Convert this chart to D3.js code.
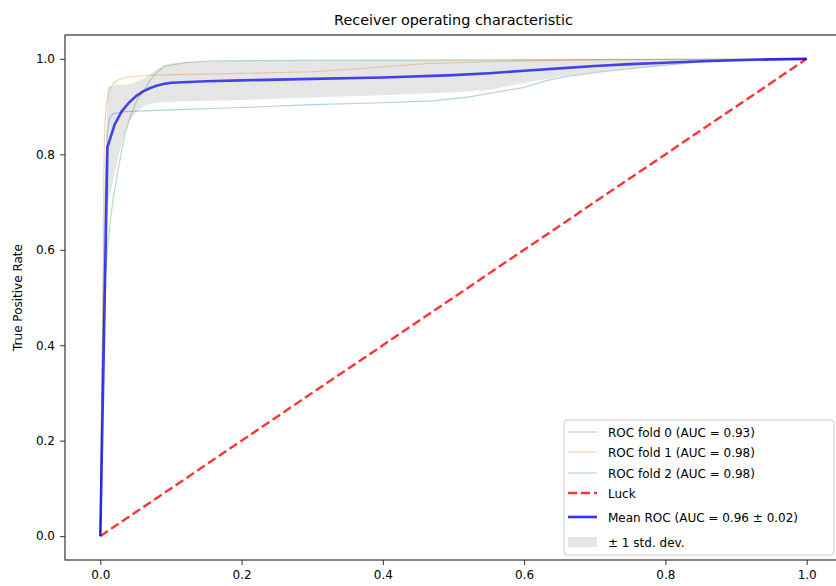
<!DOCTYPE html>
<html>
<head>
<meta charset="utf-8">
<script src="https://cdnjs.cloudflare.com/ajax/libs/d3/7.8.5/d3.min.js"></script>
<style>
  body { margin: 0; background: #fff; }
  text { font-family: "DejaVu Sans", sans-serif; fill: #000; }
</style>
</head>
<body>
<div id="chart"></div>
<script>
// ROC fold curves
var fold0Fpr = [0, 0.002, 0.005, 0.008, 0.01, 0.013, 0.018, 0.03, 0.06, 0.1, 0.18, 0.3, 0.4, 0.47, 0.52, 0.56, 0.6, 0.63, 0.66, 0.71, 0.78, 0.86, 0.93, 1];
var fold0Tpr = [0, 0.3, 0.6, 0.78, 0.85, 0.875, 0.885, 0.889, 0.891, 0.893, 0.897, 0.904, 0.908, 0.912, 0.92, 0.93, 0.94, 0.954, 0.963, 0.973, 0.984, 0.995, 0.999, 1];

var fold1Fpr = [0, 0.003, 0.005, 0.006, 0.008, 0.012, 0.018, 0.025, 0.04, 0.07, 0.15, 0.3, 0.4, 0.46, 0.57, 0.7, 1];
var fold1Tpr = [0, 0.4, 0.75, 0.85, 0.9, 0.93, 0.948, 0.956, 0.962, 0.966, 0.968, 0.973, 0.983, 0.99, 0.995, 0.998, 1];

var fold2Fpr = [0, 0.002, 0.005, 0.01, 0.014, 0.018, 0.026, 0.035, 0.044, 0.052, 0.06, 0.071, 0.08, 0.092, 0.12, 0.16, 0.3, 0.6, 1];
var fold2Tpr = [0, 0.3, 0.5, 0.6, 0.66, 0.705, 0.774, 0.845, 0.885, 0.914, 0.93, 0.956, 0.972, 0.985, 0.992, 0.996, 0.997, 0.998, 1];

// mean ROC and +/- 1 std band
var meanFpr = [0, 0.0101, 0.0202, 0.0303, 0.0404, 0.0505, 0.0606, 0.0707, 0.0808, 0.0909, 0.101, 0.15, 0.2, 0.3, 0.4, 0.5, 0.55, 0.6, 0.65, 0.7, 0.75, 0.8, 0.85, 0.9, 0.95, 1.0];
var meanTpr = [0, 0.815, 0.862, 0.89, 0.908, 0.922, 0.932, 0.939, 0.944, 0.948, 0.95, 0.953, 0.955, 0.958, 0.961, 0.966, 0.97, 0.975, 0.98, 0.985, 0.989, 0.992, 0.995, 0.997, 0.999, 1.0];
var stdUpper = [0, 0.94, 0.945, 0.946, 0.947, 0.952, 0.958, 0.968, 0.98, 0.987, 0.991, 0.995, 0.996, 0.996, 0.997, 0.998, 0.998, 0.999, 1, 1, 1, 1, 1, 1, 1, 1];
var stdLower = [0, 0.69, 0.76, 0.826, 0.868, 0.888, 0.9, 0.906, 0.908, 0.909, 0.91, 0.912, 0.914, 0.919, 0.924, 0.93, 0.935, 0.95, 0.962, 0.972, 0.98, 0.986, 0.992, 0.995, 0.998, 1.0];

var luckX = [0, 1];
var luckY = [0, 1];

var ticks = [0, 0.2, 0.4, 0.6, 0.8, 1.0];

var legendLabels = [
  "ROC fold 0 (AUC = 0.93)",
  "ROC fold 1 (AUC = 0.98)",
  "ROC fold 2 (AUC = 0.98)",
  "Luck",
  "Mean ROC (AUC = 0.96 \u00b1 0.02)",
  "\u00b1 1 std. dev."
];

var svgWidth = 836;
var svgHeight = 586;

var margin = { top: 35, right: -6, bottom: 26, left: 65 };
var chartWidth = svgWidth - margin.left - margin.right;
var chartHeight = svgHeight - margin.top - margin.bottom;

var svg = d3.select("#chart")
  .append("svg")
  .attr("width", svgWidth)
  .attr("height", svgHeight)
  .style("display", "block");

var chartGroup = svg.append("g")
  .attr("transform", `translate(${margin.left}, ${margin.top})`);

var xScale = d3.scaleLinear()
  .domain([-0.05, 1.05])
  .range([0, chartWidth]);

var yScale = d3.scaleLinear()
  .domain([-0.05, 1.05])
  .range([chartHeight, 0]);

chartGroup.append("clipPath")
  .attr("id", "clip")
  .append("rect")
  .attr("width", chartWidth)
  .attr("height", chartHeight);

var plot = chartGroup.append("g").attr("clip-path", "url(#clip)");

var line = d3.line()
  .x(d => xScale(d[0]))
  .y(d => yScale(d[1]));

var folds = [
  { x: fold0Fpr, y: fold0Tpr, color: "#1f77b4" },
  { x: fold1Fpr, y: fold1Tpr, color: "#ff7f0e" },
  { x: fold2Fpr, y: fold2Tpr, color: "#2ca02c" }
];

folds.forEach(function(f) {
  plot.append("path")
    .datum(d3.zip(f.x, f.y))
    .attr("d", line)
    .attr("fill", "none")
    .attr("stroke", f.color)
    .attr("stroke-opacity", 0.35)
    .attr("stroke-width", 1.2);
});

// luck diagonal
plot.append("path")
  .datum(d3.zip(luckX, luckY))
  .attr("d", line)
  .attr("fill", "none")
  .attr("stroke", "#ff0000")
  .attr("stroke-opacity", 0.8)
  .attr("stroke-width", 2.4)
  .attr("stroke-dasharray", "9,4");

// mean roc
plot.append("path")
  .datum(d3.zip(meanFpr, meanTpr))
  .attr("d", line)
  .attr("fill", "none")
  .attr("stroke", "#0000ff")
  .attr("stroke-opacity", 0.8)
  .attr("stroke-width", 2.6)
  .attr("stroke-linejoin", "round");

// std band
var area = d3.area()
  .x(d => xScale(d[0]))
  .y0(d => yScale(d[1]))
  .y1(d => yScale(d[2]));

plot.append("path")
  .datum(d3.zip(meanFpr, stdLower, stdUpper))
  .attr("d", area)
  .attr("fill", "#808080")
  .attr("fill-opacity", 0.2);

// axes
var xAxis = d3.axisBottom(xScale).tickValues(ticks).tickFormat(d3.format(".1f")).tickSize(5).tickPadding(5);
var yAxis = d3.axisLeft(yScale).tickValues(ticks).tickFormat(d3.format(".1f")).tickSize(5).tickPadding(5);

var gx = chartGroup.append("g")
  .attr("transform", `translate(0, ${chartHeight})`)
  .call(xAxis);

var gy = chartGroup.append("g")
  .call(yAxis);

[gx, gy].forEach(function(g) {
  g.select(".domain").remove();
  g.selectAll("line").attr("stroke", "#333").attr("stroke-width", 1);
  g.selectAll("text").style("font-size", "12px").style("font-family", "DejaVu Sans").attr("fill", "#000");
});

chartGroup.append("rect")
  .attr("width", chartWidth)
  .attr("height", chartHeight)
  .attr("fill", "none")
  .attr("stroke", "#333")
  .attr("stroke-width", 1.2);

// title + labels
chartGroup.append("text")
  .attr("x", chartWidth / 2)
  .attr("y", -10)
  .attr("text-anchor", "middle")
  .style("font-size", "14.4px")
  .text("Receiver operating characteristic");

chartGroup.append("text")
  .attr("transform", "rotate(-90)")
  .attr("x", -chartHeight / 2)
  .attr("y", -43)
  .attr("text-anchor", "middle")
  .style("font-size", "12px")
  .text("True Positive Rate");

// legend
var legend = svg.append("g").attr("transform", "translate(564, 420)");

legend.append("rect")
  .attr("width", 270)
  .attr("height", 135)
  .attr("rx", 3)
  .attr("fill", "#fff")
  .attr("fill-opacity", 0.8)
  .attr("stroke", "#ccc")
  .attr("stroke-width", 1);

var rowY = [12, 32, 53, 73, 97, 122];
var handles = [
  { color: "#1f77b4", opacity: 0.35, width: 1.2, dash: null },
  { color: "#ff7f0e", opacity: 0.35, width: 1.2, dash: null },
  { color: "#2ca02c", opacity: 0.35, width: 1.2, dash: null },
  { color: "#ff0000", opacity: 0.8, width: 2.4, dash: "9,4" },
  { color: "#0000ff", opacity: 0.8, width: 2.6, dash: null }
];

legendLabels.forEach(function(label, i) {
  if (i < 5) {
    legend.append("line")
      .attr("x1", 4).attr("x2", 33)
      .attr("y1", rowY[i]).attr("y2", rowY[i])
      .attr("stroke", handles[i].color)
      .attr("stroke-opacity", handles[i].opacity)
      .attr("stroke-width", handles[i].width)
      .attr("stroke-dasharray", handles[i].dash);
  } else {
    legend.append("rect")
      .attr("x", 4).attr("y", rowY[i] - 5)
      .attr("width", 29).attr("height", 10)
      .attr("fill", "#808080")
      .attr("fill-opacity", 0.2);
  }
  legend.append("text")
    .attr("x", 44)
    .attr("y", rowY[i] + 4.5)
    .style("font-size", "12px")
    .text(label);
});
</script>
</body>
</html>
